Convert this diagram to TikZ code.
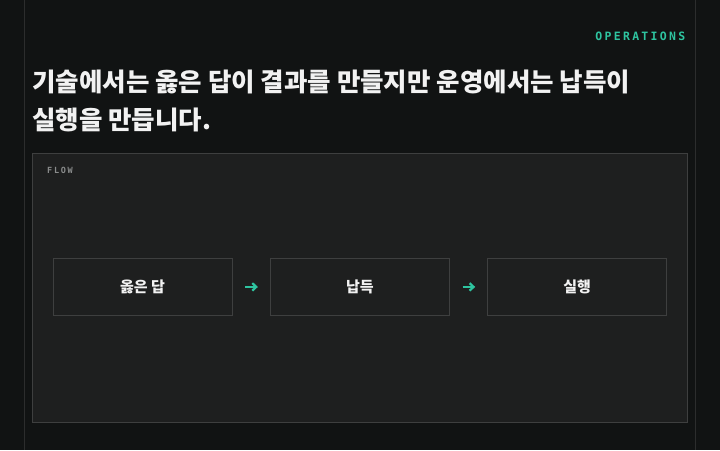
\documentclass[tikz,border=0pt]{standalone}
\usepackage{fontspec}
\newfontfamily\cjk{Noto Sans CJK KR}
\newfontfamily\monolabel[LetterSpace=20]{DejaVu Sans Mono}
\usetikzlibrary{arrows.meta, positioning}

\definecolor{pagebg}{HTML}{111313}
\definecolor{panelbg}{HTML}{1E1F1F}
\definecolor{rule}{HTML}{2C2D2D}
\definecolor{edge}{HTML}{3E3F3F}
\definecolor{teal}{HTML}{2EC4A0}
\definecolor{muted}{HTML}{8A8C8C}
\definecolor{ink}{HTML}{F2F2F2}

\begin{document}
\begin{tikzpicture}[
    x=1pt, y=-1pt,
    >={Straight Barb[length=4pt, width=7.5pt]},
    step box/.style={rectangle, draw=edge, line width=0.8pt, fill=panelbg,
        minimum width=179pt, minimum height=57pt, inner sep=0pt,
        text=ink, font=\cjk\bfseries\fontsize{15}{17}\selectfont},
    flow/.style={->, draw=teal, line width=2.2pt, shorten <=13pt, shorten >=12pt}
]

    % Background ---------------------------------------------------

    \fill[pagebg] (0,0) rectangle (720,450);
    \draw[rule, line width=0.8pt] (24.5,0) -- (24.5,450);
    \draw[rule, line width=0.8pt] (695.5,0) -- (695.5,450);
    \draw[edge, fill=panelbg, line width=0.8pt] (32.5,152.5) rectangle (687.5,421.5);

    % Texts ----------------------------------------------------------

    \node[anchor=east, text=teal, inner sep=0pt,
        font=\monolabel\bfseries\fontsize{11.5}{12}\selectfont] (tag) at (685.5,36) {OPERATIONS};
    \node[anchor=west, text=ink, inner sep=0pt, align=left,
        font=\cjk\bfseries\fontsize{25.5}{38}\selectfont] (title) at (32,101)
        {기술에서는 옳은 답이 결과를 만들지만 운영에서는 납득이\\실행을 만듭니다.};
    \node[anchor=west, text=muted, inner sep=0pt,
        font=\monolabel\bfseries\fontsize{8.5}{10}\selectfont] (label) at (47,170) {FLOW};

    % Nodes ----------------------------------------------------------

    \node[step box] (answer) at (142.5,286.5) {옳은 답};
    \node[step box, right=37.5pt of answer] (consent) {납득};
    \node[step box, right=37.5pt of consent] (action) {실행};

    % Arrows ---------------------------------------------------------

    \draw[flow] (answer.east) -- (consent.west);
    \draw[flow] (consent.east) -- (action.west);

\end{tikzpicture}
\end{document}
